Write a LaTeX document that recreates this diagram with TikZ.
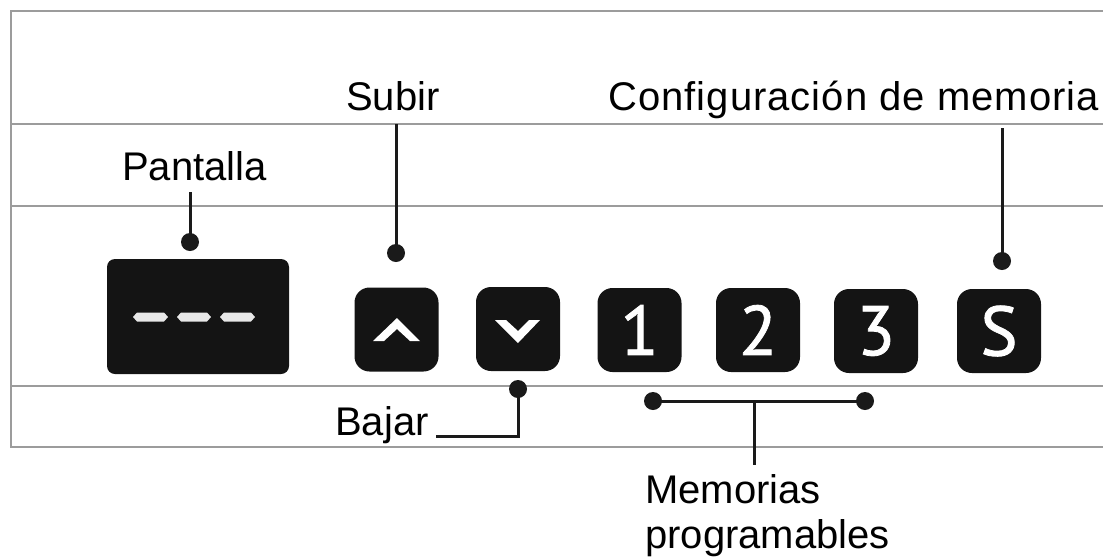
\documentclass[tikz,border=0pt]{standalone}
\usepackage{fontspec}
\setmainfont{Liberation Sans}
\newfontfamily\digitfont[FakeBold=1.2]{PT Sans}
\newfontfamily\widefont[LetterSpace=2.6]{Liberation Sans}
\definecolor{btnfill}{HTML}{141414}
\definecolor{rulegray}{HTML}{9C9C9C}
\definecolor{connblack}{HTML}{1A1A1A}
\definecolor{dashgray}{HTML}{E8E8E8}
\tikzset{
  btn/.style={rectangle, rounded corners=15pt, fill=btnfill, minimum width=84pt, minimum height=84pt, inner sep=0pt, text=white, font=\digitfont\fontsize{70}{74}\selectfont},
  dispbox/.style={rectangle, rounded corners=8pt, fill=btnfill, minimum width=182pt, minimum height=115pt, inner sep=0pt},
  dot/.style={circle, fill=connblack, minimum size=18pt, inner sep=0pt},
  conn/.style={draw=connblack, line width=3pt},
  grayrule/.style={draw=rulegray, line width=1.8pt},
  lbl/.style={inner sep=0pt, anchor=base west, font=\fontsize{40}{46}\selectfont, text=black},
  chev/.style={fill=white},
  dashbar/.style={fill=dashgray}
}
\begin{document}
\begin{tikzpicture}[x=1pt,y=-1pt]
\useasboundingbox (0,0) rectangle (1103,558);
% background rules
\draw[grayrule] (1103,11) -- (11,11) -- (11,447) -- (1103,447);
\draw[grayrule] (11,124) -- (1103,124);
\draw[grayrule] (11,206) -- (1103,206);
\draw[grayrule] (11,386) -- (1103,386);
% display
\node[dispbox] (disp) at (198,316.5) {};
\foreach \a/\b in {133/168,177/211,220/255}{
  \fill[dashgray] (\a,317) -- (\a+4,312.5) -- (\b-4,312.5) -- (\b,317) -- (\b-4,321.5) -- (\a+4,321.5) -- cycle;
}
% buttons
\node[btn] (up) at (396.5,329.5) {};
\node[btn] (down) at (518,329) {};
\node[btn] (m1) at (639.5,330) {1};
\node[btn] (m2) at (758,330) {2};
\node[btn] (m3) at (876,331) {3};
\node[btn] (set) at (999,331) {S};
% chevrons
\fill[chev] (373,341) -- (397,318) -- (420,341) -- (410,341) -- (397,329) -- (384,341) -- cycle;
\fill[chev] (495,320) -- (518,343) -- (540,320) -- (529,320) -- (518,331) -- (506,320) -- cycle;
% labels
\node[lbl] (lpant) at (122,180) {Pantalla};
\node[lbl] (lsub) at (346,110) {Subir};
\node[lbl, font=\widefont\fontsize{40}{46}\selectfont] (lconf) at (608,110) {Configuración de memoria};
\node[lbl] (lbaj) at (335,435) {Bajar};
\node[lbl] (lmem) at (645,503) {Memorias};
\node[lbl] (lprog) at (645,548) {programables};
% dots
\node[dot] (dpant) at (190,242) {};
\node[dot] (dsub) at (396,253) {};
\node[dot] (dconf) at (1002,261) {};
\node[dot] (dbaj) at (518,389) {};
\node[dot] (dm1) at (653,401) {};
\node[dot] (dm3) at (865,401) {};
% connector ends
\coordinate (cpant) at (190,192);
\coordinate (csub) at (396,124);
\coordinate (cconf) at (1002,128);
\coordinate (cbajc) at (518,436);
\coordinate (cbaj) at (436,436);
\coordinate (cmemt) at (754,401);
\coordinate (cmem) at (754,465);
% connectors
\draw[conn] (cpant) -- (dpant.center);
\draw[conn] (csub) -- (dsub.center);
\draw[conn] (cconf) -- (dconf.center);
\draw[conn] (dbaj.center) -- (cbajc) -- (cbaj);
\draw[conn] (dm1.center) -- (dm3.center);
\draw[conn] (cmemt) -- (cmem);
\end{tikzpicture}
\end{document}
